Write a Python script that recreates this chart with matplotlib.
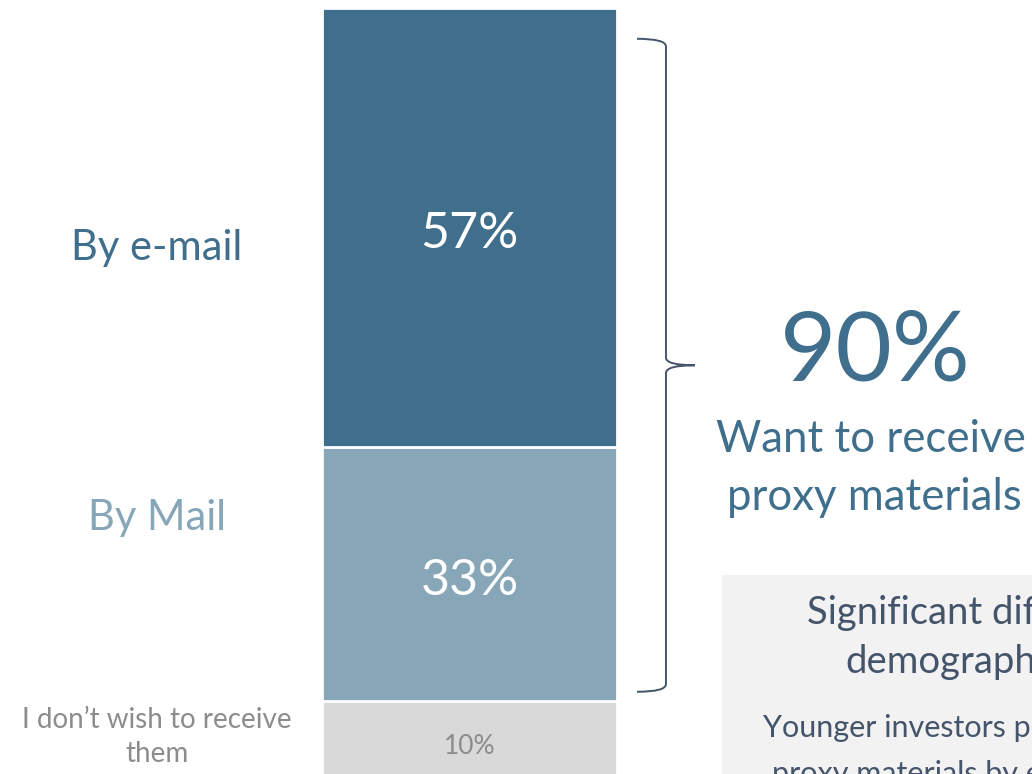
import numpy as np
import matplotlib.pyplot as plt
from matplotlib.path import Path
from matplotlib.patches import PathPatch, Rectangle
from matplotlib.transforms import blended_transform_factory

plt.rcParams['font.family'] = ['Lato', 'DejaVu Sans']

# data
categories = ["I don\u2019t wish to receive\nthem", "By Mail", "By e-mail"]
values = [10, 33, 57]
bar_labels = ["10%", "33%", "57%"]
total_label = "90%"

colors = ["#D9D9D9", "#87A6B7", "#3F6F8C"]
label_colors = ["#8C8C8C", "#87A6B7", "#3F6F8C"]
value_colors = ["#8C8C8C", "white", "white"]
value_sizes = [19, 36, 36]

W, H = 1032, 774
fig = plt.figure(figsize=(W / 100, H / 100), dpi=100, facecolor="white")

# bar axes
ax = fig.add_axes([322 / W, 0, 295 / W, 1])
ax.set_xlim(-0.5, 0.5)
ax.set_ylim(0.52, 101.04)
ax.axis("off")

bottoms = np.concatenate([[0], np.cumsum(values)[:-1]])
ax.bar([0] * len(values), values, bottom=bottoms, width=1.0, color=colors,
       edgecolor="white", linewidth=2)

for v, b, lab, c, s in zip(values, bottoms, bar_labels, value_colors, value_sizes):
    ax.text(0, b + v / 2 - 0.9, lab, ha="center", va="center", color=c, fontsize=s)

# category labels on the left
fig.text(157 / W, 1 - 248 / H, categories[2], ha="center", va="center",
         color=label_colors[2], fontsize=30)
fig.text(157 / W, 1 - 518 / H, categories[1], ha="center", va="center",
         color=label_colors[1], fontsize=30)
fig.text(157 / W, 1 - 737 / H, categories[0], ha="center", va="center",
         color=label_colors[0], fontsize=20, linespacing=1.35)

# brace over the 57% + 33% part
tr = blended_transform_factory(ax.transAxes, ax.transData)
top = sum(values) - 4
bot = values[0] + 1.2
mid = (top + bot) / 2
x0, x1, x2 = 1.068, 1.166, 1.264
d = 1.0
verts = [(x0, top), (x1, top), (x1, top - d),
         (x1, mid + d),
         (x1, mid), (x2, mid),
         (x1, mid), (x1, mid - d),
         (x1, bot + d),
         (x1, bot), (x0, bot)]
codes = [Path.MOVETO, Path.CURVE3, Path.CURVE3,
         Path.LINETO,
         Path.CURVE3, Path.CURVE3,
         Path.CURVE3, Path.CURVE3,
         Path.LINETO,
         Path.CURVE3, Path.CURVE3]
ax.add_patch(PathPatch(Path(verts, codes), transform=tr, fill=False,
                       edgecolor="#44546A", linewidth=1.4, clip_on=False))

# 90% summary
fig.text(875 / W, 1 - 354 / H, total_label, ha="center", va="center",
         color="#3F6F8C", fontsize=70)
fig.text(871 / W, 1 - 440 / H, "Want to receive", ha="center", va="center",
         color="#3F6F8C", fontsize=31.5)
fig.text(874 / W, 1 - 498 / H, "proxy materials", ha="center", va="center",
         color="#3F6F8C", fontsize=31.5)

# grey info box
fig.patches.append(Rectangle((722 / W, 0), (W - 722) / W, (H - 575) / H,
                             transform=fig.transFigure, facecolor="#F2F2F2",
                             edgecolor="none", zorder=0))
fig.text(807 / W, 1 - 613 / H, "Significant differences", ha="left", va="center",
         color="#44546A", fontsize=27.5)
fig.text(845 / W, 1 - 662 / H, "demographics", ha="left", va="center",
         color="#44546A", fontsize=27.5)
fig.text(763 / W, 1 - 728 / H, "Younger investors prefer", ha="left", va="center",
         color="#44546A", fontsize=22)
fig.text(772 / W, 1 - 774 / H, "proxy materials by e-mail", ha="left", va="center",
         color="#44546A", fontsize=22)

fig.savefig("out.png", dpi=100)
